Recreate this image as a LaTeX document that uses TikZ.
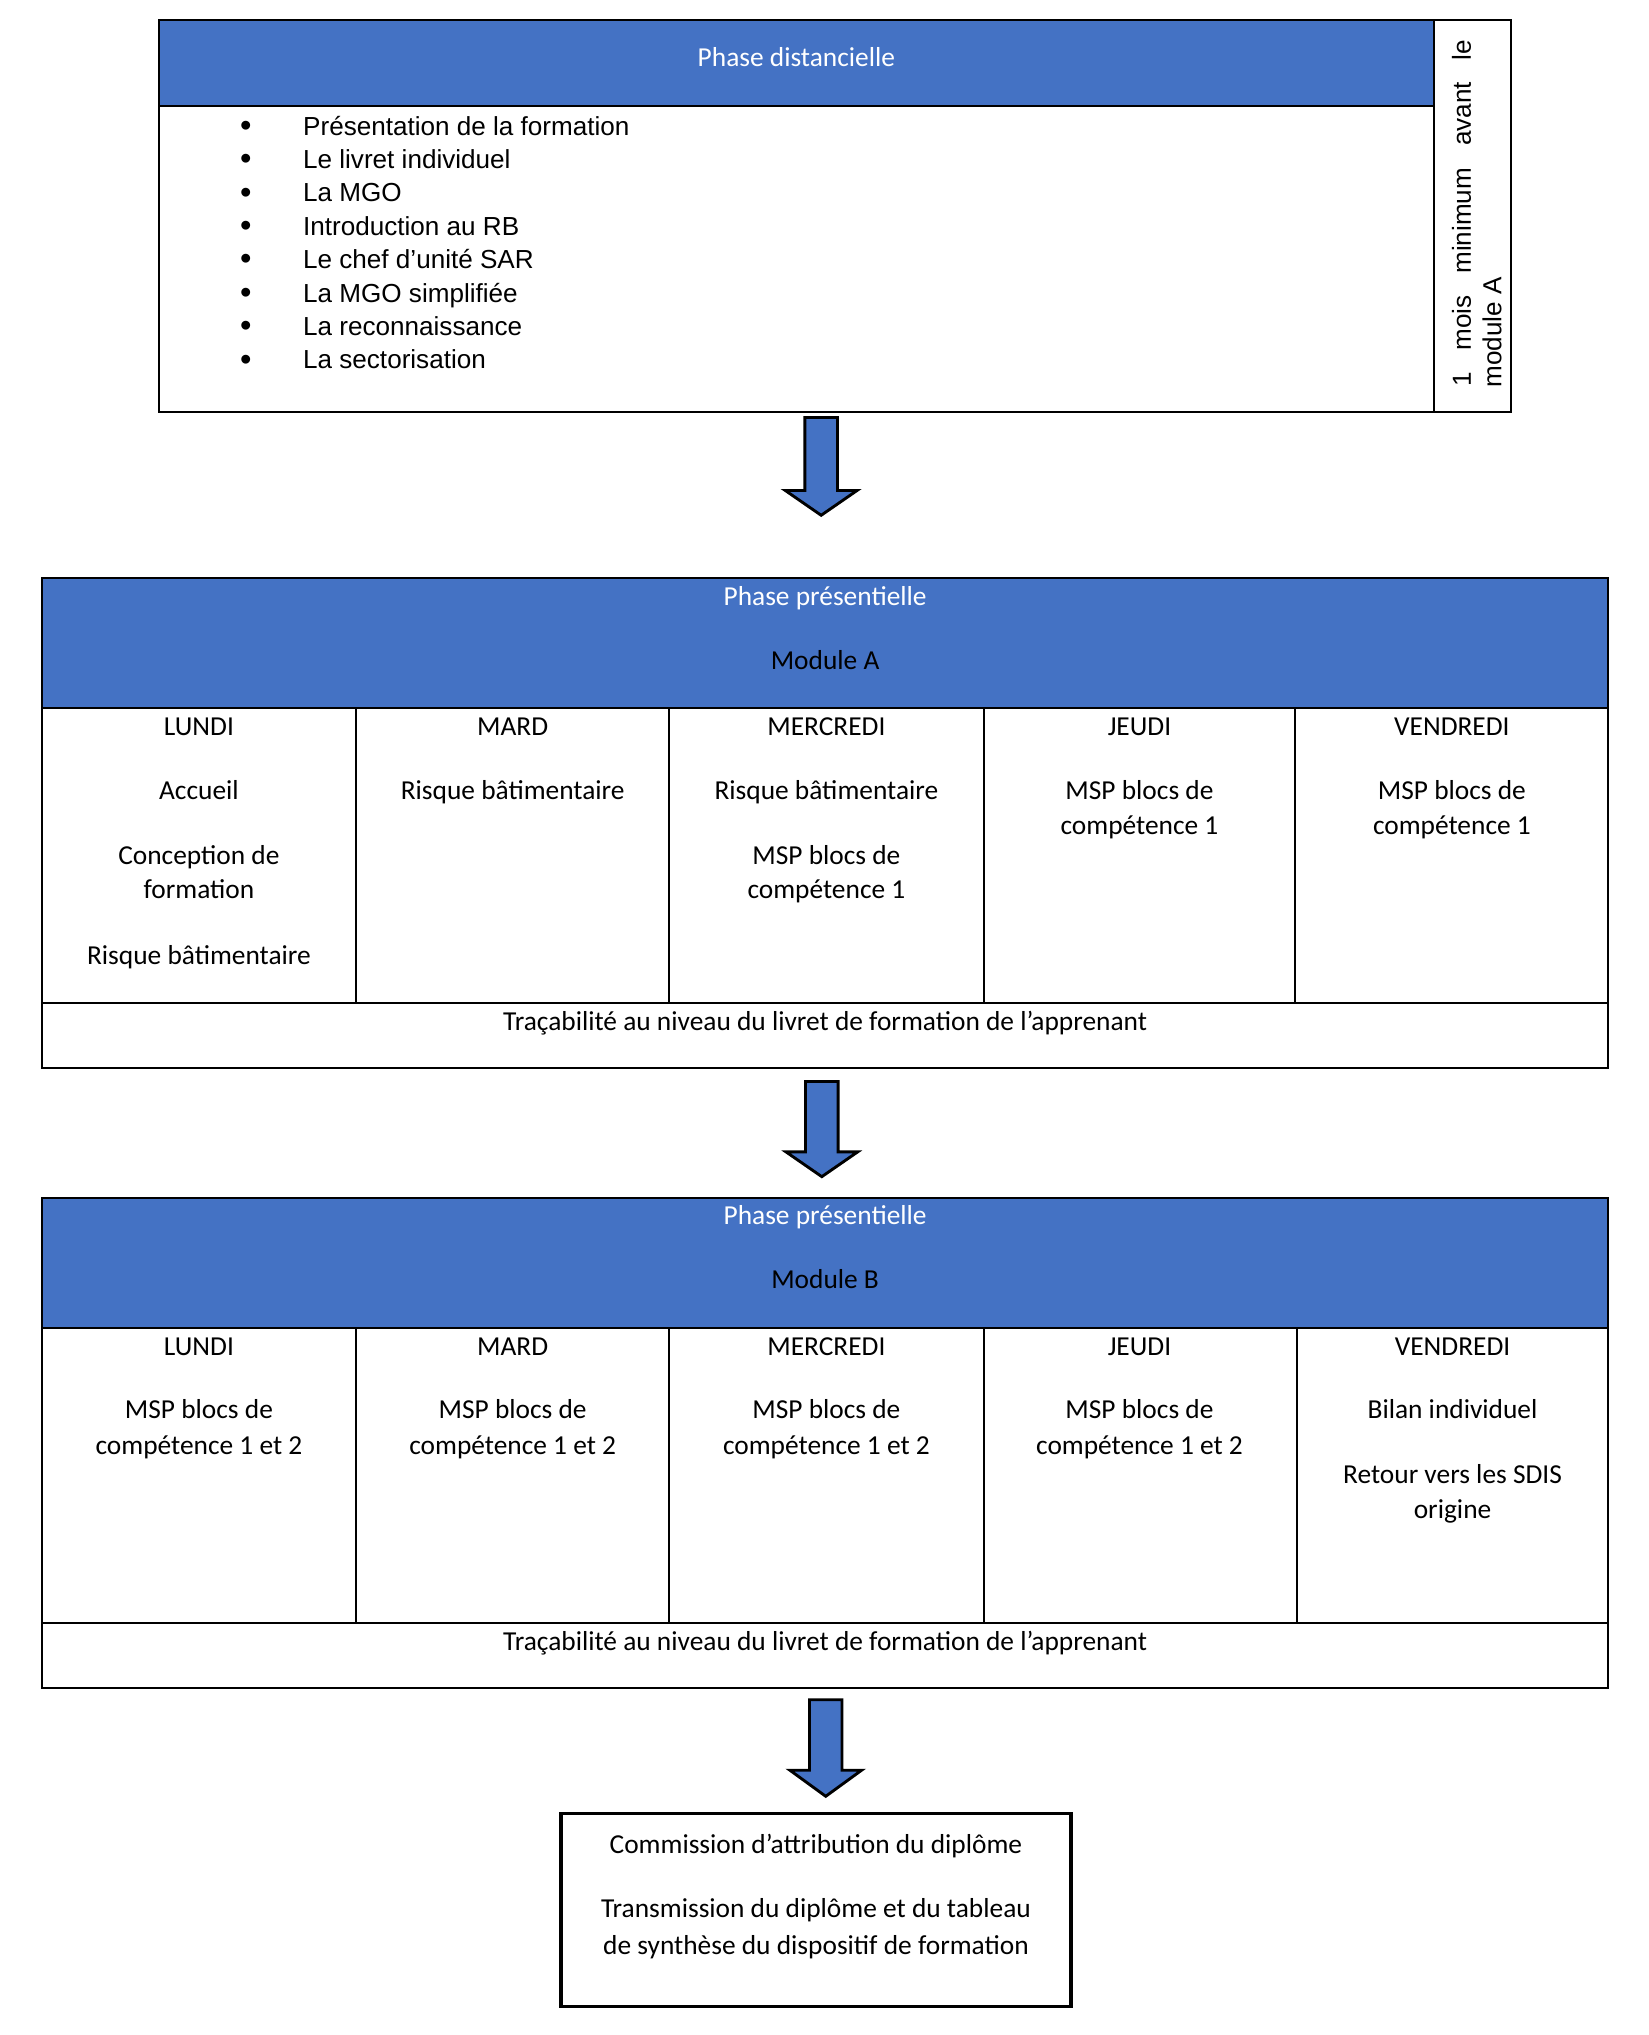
\documentclass[tikz,border=0pt]{standalone}
\usepackage{fontspec}
\setmainfont{Carlito}
\newfontfamily\arialf{Liberation Sans}
\definecolor{offblue}{HTML}{4472C4}
\tikzset{
  txt/.style={inner sep=0, anchor=base, font=\fontsize{10.5}{12.75}\selectfont},
  wtxt/.style={txt, text=white},
  ltxt/.style={inner sep=0, anchor=base west, font=\arialf\fontsize{10}{12}\selectfont},
  bul/.style={inner sep=0, anchor=base, font=\arialf\fontsize{12.5}{14}\selectfont},
  frame/.style={draw=black, line width=0.75pt},
  thickframe/.style={draw=black, line width=1.3pt},
  blockarrow/.style={fill=offblue, draw=black, line width=1.1pt, line join=miter},
}
\begin{document}
\begin{tikzpicture}[x=0.5pt,y=-0.5pt]
\useasboundingbox (0,0) rectangle (1264,1560);
% ---------- top box
\fill[offblue] (122,15) rectangle (1099,81);
\draw[frame] (122,15) rectangle (1099,316);
\draw[frame] (122,81) -- (1099,81);
\draw[frame] (1099,15) rectangle (1158,316);
\node[wtxt] (ph1) at (610.5,51) {Phase distancielle};
\foreach \t [count=\i] in {Présentation de la formation, Le livret individuel, La MGO, Introduction au RB, Le chef d’unité SAR, La MGO simplifiée, La reconnaissance, La sectorisation}{
  \node[bul] (b\i) at (188.5,{104.5+25.6*(\i-1)}) {•};
  \node[ltxt] (l\i) at (232,{103.5+25.6*(\i-1)}) {\t};
}
\node[ltxt, rotate=90] (note1) at (1127.6,297) {\hbox to 133pt{1\hfill mois\hfill minimum\hfill avant\hfill le}};
\node[ltxt, rotate=90] (note2) at (1151,297.6) {module A};
% ---------- arrow 1
\draw[blockarrow] (617,320) -- (642,320) -- (642,376) -- (657,376) -- (629.5,395) -- (602,376) -- (617,376) -- cycle;
% ---------- module A
\fill[offblue] (32,443) rectangle (1233,543);
\draw[frame] (32,443) rectangle (1233,819);
\draw[frame] (32,543) -- (1233,543);
\draw[frame] (32,769) -- (1233,769);
\foreach \x in {273,513,754,993} \draw[frame] (\x,543) -- (\x,769);
\node[wtxt] (pa1) at (632.5,464) {Phase présentielle};
\node[txt] (pa2) at (632.5,513) {Module A};
\node[txt] (a11) at (152.5,564) {LUNDI};
\node[txt] (a12) at (152.5,612.5) {Accueil};
\node[txt] (a13) at (152.5,663) {Conception de};
\node[txt] (a14) at (152.5,689) {formation};
\node[txt] (a15) at (152.5,739) {Risque bâtimentaire};
\node[txt] (a21) at (393,564) {MARD};
\node[txt] (a22) at (393,612.5) {Risque bâtimentaire};
\node[txt] (a31) at (633.5,564) {MERCREDI};
\node[txt] (a32) at (633.5,612.5) {Risque bâtimentaire};
\node[txt] (a33) at (633.5,663) {MSP blocs de};
\node[txt] (a34) at (633.5,689) {compétence 1};
\node[txt] (a41) at (873.5,564) {JEUDI};
\node[txt] (a42) at (873.5,612.5) {MSP blocs de};
\node[txt] (a43) at (873.5,640) {compétence 1};
\node[txt] (a51) at (1113,564) {VENDREDI};
\node[txt] (a52) at (1113,612.5) {MSP blocs de};
\node[txt] (a53) at (1113,640) {compétence 1};
\node[txt] (atr) at (632.5,790) {Traçabilité au niveau du livret de formation de l’apprenant};
% ---------- arrow 2
\draw[blockarrow] (617.5,829) -- (642.5,829) -- (642.5,883) -- (657.5,883) -- (630,902) -- (602.5,883) -- (617.5,883) -- cycle;
% ---------- module B
\fill[offblue] (32,918) rectangle (1233,1018);
\draw[frame] (32,918) rectangle (1233,1294);
\draw[frame] (32,1018) -- (1233,1018);
\draw[frame] (32,1244) -- (1233,1244);
\foreach \x in {273,513,754,994} \draw[frame] (\x,1018) -- (\x,1244);
\node[wtxt] (pb1) at (632.5,939) {Phase présentielle};
\node[txt] (pb2) at (632.5,988) {Module B};
\node[txt] (b11) at (152.5,1039) {LUNDI};
\node[txt] (b12) at (152.5,1087.5) {MSP blocs de};
\node[txt] (b13) at (152.5,1115) {compétence 1 et 2};
\node[txt] (b21) at (393,1039) {MARD};
\node[txt] (b22) at (393,1087.5) {MSP blocs de};
\node[txt] (b23) at (393,1115) {compétence 1 et 2};
\node[txt] (b31) at (633.5,1039) {MERCREDI};
\node[txt] (b32) at (633.5,1087.5) {MSP blocs de};
\node[txt] (b33) at (633.5,1115) {compétence 1 et 2};
\node[txt] (b41) at (873.5,1039) {JEUDI};
\node[txt] (b42) at (873.5,1087.5) {MSP blocs de};
\node[txt] (b43) at (873.5,1115) {compétence 1 et 2};
\node[txt] (b51) at (1113.5,1039) {VENDREDI};
\node[txt] (b52) at (1113.5,1087.5) {Bilan individuel};
\node[txt] (b53) at (1113.5,1137) {Retour vers les SDIS};
\node[txt] (b54) at (1113.5,1164) {origine};
\node[txt] (btr) at (632.5,1265) {Traçabilité au niveau du livret de formation de l’apprenant};
% ---------- arrow 3
\draw[blockarrow] (620.5,1303) -- (645.5,1303) -- (645.5,1357) -- (660.5,1357) -- (633,1377) -- (605.5,1357) -- (620.5,1357) -- cycle;
% ---------- final box
\draw[thickframe] (430,1390) rectangle (821,1538);
\node[txt] (f1) at (625.5,1421) {Commission d’attribution du diplôme};
\node[txt] (f2) at (625.5,1470) {Transmission du diplôme et du tableau};
\node[txt] (f3) at (625.5,1498) {de synthèse du dispositif de formation};
\end{tikzpicture}
\end{document}
